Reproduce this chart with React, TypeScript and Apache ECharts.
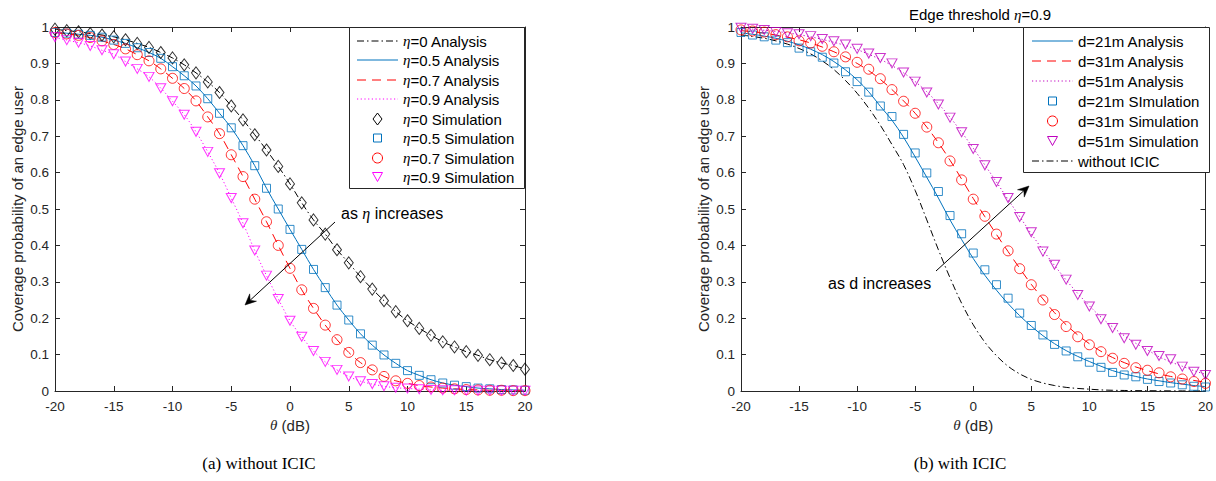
import React, { useEffect, useRef } from 'react';
import * as echarts from 'echarts';

// θ (dB) sample points
const theta = [-20, -19, -18, -17, -16, -15, -14, -13, -12, -11, -10, -9, -8, -7, -6, -5, -4, -3, -2, -1, 0,
  1, 2, 3, 4, 5, 6, 7, 8, 9, 10, 11, 12, 13, 14, 15, 16, 17, 18, 19, 20];

// (a) without ICIC
const eta0 = [0.994, 0.990, 0.987, 0.982, 0.978, 0.973, 0.965, 0.955, 0.944, 0.930, 0.915, 0.896, 0.874, 0.849, 0.820, 0.783, 0.745, 0.704, 0.662, 0.617, 0.569,
  0.517, 0.470, 0.431, 0.388, 0.352, 0.314, 0.280, 0.248, 0.218, 0.193, 0.172, 0.153, 0.135, 0.121, 0.108, 0.098, 0.086, 0.077, 0.070, 0.060];
const eta05 = [0.985, 0.983, 0.980, 0.977, 0.972, 0.964, 0.955, 0.943, 0.930, 0.914, 0.891, 0.866, 0.838, 0.803, 0.763, 0.723, 0.674, 0.619, 0.557, 0.500, 0.444,
  0.389, 0.334, 0.284, 0.236, 0.195, 0.157, 0.126, 0.099, 0.076, 0.056, 0.043, 0.031, 0.022, 0.016, 0.012, 0.008, 0.006, 0.004, 0.003, 0.002];
const eta07 = [0.985, 0.981, 0.977, 0.971, 0.962, 0.952, 0.940, 0.924, 0.907, 0.885, 0.859, 0.831, 0.797, 0.753, 0.707, 0.649, 0.589, 0.527, 0.465, 0.400, 0.337,
  0.278, 0.227, 0.181, 0.141, 0.106, 0.078, 0.058, 0.040, 0.028, 0.021, 0.015, 0.011, 0.008, 0.006, 0.004, 0.003, 0.002, 0.002, 0.001, 0.001];
const eta09 = [0.972, 0.964, 0.957, 0.948, 0.936, 0.925, 0.905, 0.885, 0.863, 0.832, 0.796, 0.759, 0.712, 0.657, 0.598, 0.530, 0.461, 0.386, 0.317, 0.253, 0.193,
  0.149, 0.110, 0.080, 0.058, 0.040, 0.027, 0.019, 0.013, 0.009, 0.007, 0.005, 0.003, 0.002, 0.002, 0.001, 0.001, 0.001, 0.001, 0.001, 0.001];

// (b) with ICIC, edge threshold η=0.9
const d21Analysis = [0.984, 0.980, 0.975, 0.969, 0.961, 0.951, 0.939, 0.924, 0.905, 0.882, 0.855, 0.822, 0.782, 0.744, 0.697, 0.643, 0.587, 0.530, 0.470, 0.416, 0.364,
  0.318, 0.277, 0.240, 0.207, 0.178, 0.152, 0.130, 0.111, 0.095, 0.081, 0.068, 0.056, 0.047, 0.040, 0.033, 0.028, 0.023, 0.019, 0.015, 0.012];
const d31Analysis = [0.990, 0.987, 0.983, 0.978, 0.972, 0.965, 0.956, 0.945, 0.932, 0.917, 0.900, 0.880, 0.856, 0.828, 0.797, 0.763, 0.725, 0.682, 0.634, 0.582, 0.529,
  0.479, 0.430, 0.383, 0.337, 0.293, 0.253, 0.215, 0.182, 0.154, 0.130, 0.109, 0.092, 0.078, 0.066, 0.056, 0.047, 0.040, 0.034, 0.029, 0.024];
const d51Analysis = [0.996, 0.994, 0.991, 0.988, 0.984, 0.979, 0.973, 0.966, 0.958, 0.949, 0.938, 0.925, 0.911, 0.894, 0.874, 0.850, 0.822, 0.789, 0.752, 0.711, 0.667,
  0.621, 0.574, 0.526, 0.479, 0.432, 0.387, 0.345, 0.305, 0.268, 0.234, 0.203, 0.176, 0.152, 0.131, 0.113, 0.094, 0.080, 0.068, 0.056, 0.046];
const d21Sim = [0.985, 0.978, 0.973, 0.964, 0.957, 0.942, 0.932, 0.917, 0.901, 0.877, 0.850, 0.821, 0.783, 0.754, 0.705, 0.654, 0.599, 0.548, 0.482, 0.432, 0.379,
  0.333, 0.292, 0.255, 0.214, 0.180, 0.154, 0.128, 0.110, 0.094, 0.079, 0.065, 0.051, 0.044, 0.039, 0.032, 0.026, 0.022, 0.017, 0.013, 0.011];
const d31Sim = [0.992, 0.989, 0.986, 0.979, 0.973, 0.962, 0.956, 0.947, 0.932, 0.918, 0.903, 0.884, 0.858, 0.828, 0.796, 0.763, 0.725, 0.682, 0.632, 0.580, 0.527,
  0.480, 0.431, 0.385, 0.336, 0.292, 0.250, 0.210, 0.177, 0.149, 0.127, 0.108, 0.090, 0.076, 0.064, 0.057, 0.050, 0.039, 0.033, 0.026, 0.021];
const d51Sim = [0.998, 0.995, 0.992, 0.986, 0.983, 0.980, 0.975, 0.967, 0.961, 0.952, 0.940, 0.927, 0.915, 0.900, 0.875, 0.850, 0.820, 0.787, 0.751, 0.711, 0.665,
  0.620, 0.574, 0.530, 0.478, 0.436, 0.383, 0.347, 0.306, 0.264, 0.232, 0.197, 0.173, 0.145, 0.127, 0.110, 0.096, 0.087, 0.067, 0.053, 0.044];
const withoutICIC = [0.978, 0.974, 0.969, 0.962, 0.953, 0.941, 0.926, 0.907, 0.883, 0.853, 0.818, 0.777, 0.730, 0.677, 0.622, 0.551, 0.470, 0.388, 0.311, 0.241, 0.182,
  0.134, 0.097, 0.068, 0.047, 0.032, 0.022, 0.015, 0.010, 0.007, 0.005, 0.003, 0.002, 0.0015, 0.001, 0.0008, 0.0006, 0.0004, 0.0003, 0.0002, 0.0002];

const leftNames = ['η=0 Analysis', 'η=0.5 Analysis', 'η=0.7 Analysis', 'η=0.9 Analysis',
  'η=0 Simulation', 'η=0.5 Simulation', 'η=0.7 Simulation', 'η=0.9 Simulation'];
const rightNames = ['d=21m Analysis', 'd=31m Analysis', 'd=51m Analysis',
  'd=21m SImulation', 'd=31m Simulation', 'd=51m Simulation', 'without ICIC'];

const xTicks = { min: -20, max: 20, interval: 5 };
const yTicks = { min: 0, max: 1, interval: 0.1 };

const BLUE = '#0072BD';
const RED = '#FF0000';
const MAG = '#FF00FF';
const PURP = '#BF00BF';
const AX = '#262626';
const SANS = '"Liberation Sans", Arial, Helvetica, sans-serif';
const SERIF = '"Liberation Serif", "Times New Roman", serif';

const pairs = (ys: number[]) => theta.map((t, i) => [t, ys[i]]);

const DASHDOT = [7, 3, 1.5, 3];
const DASHED = [9, 6];
const DOTTED = [1.2, 2.5];

type Mark = { kind: 'line'; color: string; dash: any } | { kind: 'sym'; color: string; sym: string; size: any; rot?: number };

const leftStyles: Mark[] = [
  { kind: 'line', color: '#000', dash: DASHDOT },
  { kind: 'line', color: BLUE, dash: 'solid' },
  { kind: 'line', color: RED, dash: DASHED },
  { kind: 'line', color: MAG, dash: DOTTED },
  { kind: 'sym', color: '#000', sym: 'diamond', size: [9, 12] },
  { kind: 'sym', color: BLUE, sym: 'rect', size: 8 },
  { kind: 'sym', color: RED, sym: 'circle', size: 10 },
  { kind: 'sym', color: MAG, sym: 'triangle', size: [10, 9], rot: 180 },
];
const rightStyles: Mark[] = [
  { kind: 'line', color: BLUE, dash: 'solid' },
  { kind: 'line', color: RED, dash: DASHED },
  { kind: 'line', color: PURP, dash: DOTTED },
  { kind: 'sym', color: BLUE, sym: 'rect', size: 8 },
  { kind: 'sym', color: RED, sym: 'circle', size: 10 },
  { kind: 'sym', color: PURP, sym: 'triangle', size: [10, 9], rot: 180 },
  { kind: 'line', color: '#000', dash: DASHDOT },
];
const leftData = [eta0, eta05, eta07, eta09, eta0, eta05, eta07, eta09];
const rightData = [d21Analysis, d31Analysis, d51Analysis, d21Sim, d31Sim, d51Sim, withoutICIC];

function makeSeries(name: string, ys: number[], m: Mark, gi: number) {
  if (m.kind === 'line') {
    return {
      name, type: 'line', xAxisIndex: gi * 2, yAxisIndex: gi * 2, data: pairs(ys),
      symbol: 'none', showSymbol: false, smooth: 0.35, color: m.color,
      lineStyle: { color: m.color, width: 1, type: m.dash }, silent: true, z: 2,
    };
  }
  return {
    name, type: 'scatter', xAxisIndex: gi * 2, yAxisIndex: gi * 2, data: pairs(ys),
    symbol: m.sym, symbolSize: m.size, symbolRotate: m.rot || 0, color: m.color,
    itemStyle: { color: 'rgba(255,255,255,0)', borderColor: m.color, borderWidth: 1 }, silent: true, z: 3,
  };
}

function makeAxes(gi: number) {
  const base = {
    type: 'value', gridIndex: gi,
    axisLine: { show: true, onZero: false, lineStyle: { color: AX, width: 1 } },
    axisTick: { show: true, inside: true, length: 5, lineStyle: { color: AX, width: 1 } },
    splitLine: { show: false },
  };
  const xs = [
    {
      ...base, ...xTicks, position: 'bottom',
      axisLabel: { show: true, fontSize: 13.5, color: AX, fontFamily: SANS, margin: 8 },
      name: '{e|θ} (dB)', nameLocation: 'middle', nameGap: 24,
      nameTextStyle: { fontSize: 15, color: AX, fontFamily: SANS, rich: { e: { fontFamily: SERIF, fontStyle: 'italic', fontSize: 15, color: AX } } },
    },
    { ...base, ...xTicks, position: 'top', axisLabel: { show: false } },
  ];
  const ys = [
    {
      ...base, ...yTicks, position: 'left',
      axisLabel: { show: true, fontSize: 13.5, color: AX, fontFamily: SANS, margin: 6 },
      name: 'Coverage probability of an edge user', nameLocation: 'middle', nameGap: 30,
      nameTextStyle: { fontSize: 15, color: AX, fontFamily: SANS },
    },
    { ...base, ...yTicks, position: 'right', axisLabel: { show: false } },
  ];
  return { xs, ys };
}

function arrow(x1: number, y1: number, x2: number, y2: number) {
  const dx = x2 - x1, dy = y2 - y1;
  const L = Math.hypot(dx, dy);
  const ux = dx / L, uy = dy / L;
  const nx = -uy, ny = ux;
  const hl = 11, hw = 5, notch = 7;
  const bx = x2 - ux * hl, by = y2 - uy * hl;
  return [
    { type: 'line', shape: { x1, y1, x2: x2 - ux * notch, y2: y2 - uy * notch }, style: { stroke: '#000', lineWidth: 1 }, z: 10 },
    {
      type: 'polygon', z: 10,
      shape: { points: [[x2, y2], [bx + nx * hw, by + ny * hw], [x2 - ux * notch, y2 - uy * notch], [bx - nx * hw, by - ny * hw]] },
      style: { fill: '#000', stroke: '#000', lineWidth: 0.5 },
    },
  ];
}

const richE = { e: { fontFamily: SERIF, fontStyle: 'italic', fontSize: 15, color: '#000' } };

function symbolGraphic(m: any, cx: number, cy: number) {
  const style = { fill: 'none', stroke: m.color, lineWidth: 1 };
  const sz = Array.isArray(m.size) ? m.size : [m.size, m.size];
  const w = sz[0], h = sz[1];
  if (m.sym === 'rect') return { type: 'rect', z: 21, shape: { x: cx - w / 2, y: cy - h / 2, width: w, height: h }, style };
  if (m.sym === 'circle') return { type: 'circle', z: 21, shape: { cx, cy, r: w / 2 }, style };
  if (m.sym === 'diamond') return { type: 'polygon', z: 21, shape: { points: [[cx, cy - h / 2], [cx + w / 2, cy], [cx, cy + h / 2], [cx - w / 2, cy]] }, style };
  return { type: 'polygon', z: 21, shape: { points: [[cx - w / 2, cy - h / 2], [cx + w / 2, cy - h / 2], [cx, cy + h / 2]] }, style };
}

// manual MATLAB-like legend box
function legendBox(names: string[], styles: Mark[], box: { x: number; y: number; w: number; h: number; row0: number; step: number; iconX: number }) {
  const els: any[] = [
    { type: 'rect', z: 20, shape: { x: box.x + 0.5, y: box.y + 0.5, width: box.w, height: box.h }, style: { fill: '#fff', stroke: AX, lineWidth: 1 } },
  ];
  names.forEach((n, i) => {
    const cy = Math.round(box.row0 + i * box.step);
    const m: any = styles[i];
    if (m.kind === 'line') {
      els.push({ type: 'line', z: 21, shape: { x1: box.iconX, y1: cy, x2: box.iconX + 41, y2: cy }, style: { stroke: m.color, lineWidth: 1, lineDash: m.dash === 'solid' ? null : m.dash } });
    } else {
      els.push(symbolGraphic(m, box.iconX + 20.5, cy));
    }
    els.push({
      type: 'text', z: 21, x: box.iconX + 46, y: cy,
      style: { text: n.replace('η', '{e|η}'), fill: '#000', font: `15px ${SANS}`, verticalAlign: 'middle', rich: richE },
    });
  });
  return els;
}

export default function App() {
  const ref = useRef<HTMLDivElement>(null);
  useEffect(() => {
    if (!ref.current) return;
    const chart = echarts.init(ref.current, null, { renderer: 'svg' });
    const a = makeAxes(0);
    const b = makeAxes(1);
    chart.setOption({
      animation: false,
      backgroundColor: '#fff',
      title: {
        text: 'Edge threshold {e|η}=0.9', left: 975, top: 2, textAlign: 'center',
        textStyle: { fontSize: 15, fontWeight: 'normal', color: '#000', fontFamily: SANS, rich: richE },
      },
      grid: [
        { left: 55, top: 27, width: 470, height: 364 },
        { left: 741, top: 27, width: 468, height: 364 },
      ],
      xAxis: [...a.xs, ...b.xs.map((x: any) => ({ ...x, gridIndex: 1 }))],
      yAxis: [...a.ys, ...b.ys.map((y: any) => ({ ...y, gridIndex: 1 }))],
      series: [
        ...leftNames.map((n, i) => makeSeries(n, leftData[i], leftStyles[i], 0)),
        ...rightNames.map((n, i) => makeSeries(n, rightData[i], rightStyles[i], 1)),
      ],
      graphic: [
        ...legendBox(leftNames, leftStyles, { x: 349, y: 27, w: 175, h: 161, row0: 40.5, step: 19.5, iconX: 357 }),
        ...legendBox(rightNames, rightStyles, { x: 1023, y: 27, w: 186, h: 145, row0: 40.7, step: 20, iconX: 1032 }),
        ...arrow(335, 222, 245, 305),
        { type: 'text', x: 341, y: 213, z: 10, style: { text: 'as {e|η} increases', fill: '#000', font: `16px ${SANS}`, verticalAlign: 'middle', rich: { e: { fontFamily: SERIF, fontStyle: 'italic', fontSize: 16 } } } },
        ...arrow(936, 271, 1029, 186),
        { type: 'text', x: 828, y: 283, z: 10, style: { text: 'as d increases', fill: '#000', font: `16px ${SANS}`, verticalAlign: 'middle' } },
        { type: 'text', x: 259, y: 463, z: 10, style: { text: '(a) without ICIC', fill: '#000', font: `17px ${SERIF}`, align: 'center', verticalAlign: 'middle' } },
        { type: 'text', x: 960, y: 463, z: 10, style: { text: '(b) with ICIC', fill: '#000', font: `17px ${SERIF}`, align: 'center', verticalAlign: 'middle' } },
      ],
    });
    return () => chart.dispose();
  }, []);
  return <div ref={ref} style={{ position: 'fixed', left: 0, top: 0, width: 1216, height: 481, background: '#fff' }} />;
}
